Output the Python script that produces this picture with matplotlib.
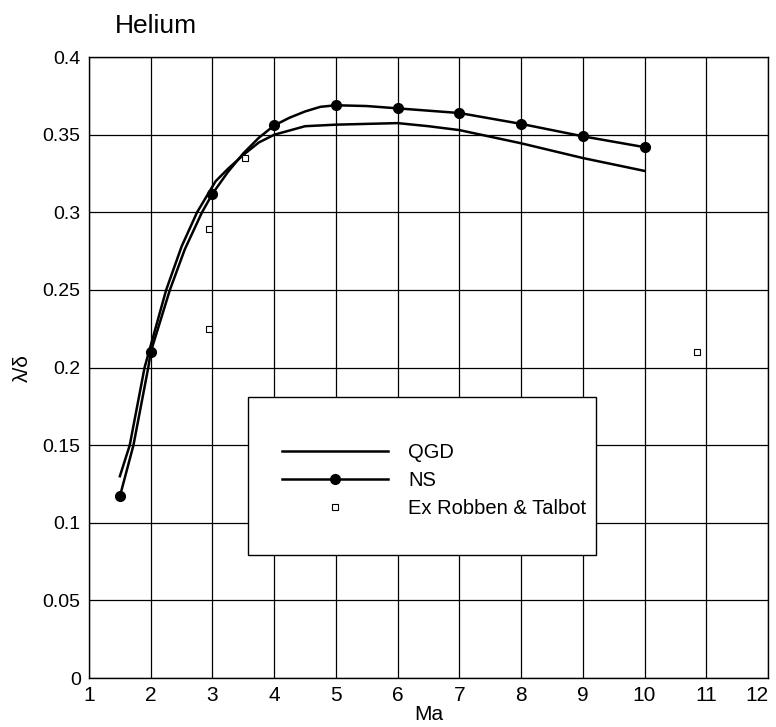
import matplotlib
matplotlib.use("Agg")
import matplotlib.pyplot as plt
from matplotlib.patches import Rectangle

plt.rcParams['font.family'] = ['Liberation Sans', 'DejaVu Sans']

# QGD curve
qgd_x = [1.5, 1.66, 1.9, 2.25, 2.5, 2.75, 3.05, 3.25, 3.5, 3.75, 4.0, 4.5, 5.0, 5.5, 6.0, 6.5, 7.0, 8.0, 9.0, 10.0]
qgd_y = [0.130, 0.150, 0.200, 0.250, 0.278, 0.300, 0.320, 0.328, 0.337, 0.345, 0.350, 0.3555, 0.3565, 0.357, 0.3575, 0.3555, 0.353, 0.3445, 0.335, 0.3267]

# NS curve (markers at the computed Mach numbers)
ns_x = [1.5, 1.72, 1.96, 2.0, 2.31, 2.55, 2.83, 3.0, 3.25, 3.5, 3.75, 4.0, 4.25, 4.5, 4.75, 5.0, 5.5, 6.0, 7.0, 8.0, 9.0, 10.0]
ns_y = [0.117, 0.150, 0.200, 0.210, 0.250, 0.276, 0.300, 0.312, 0.326, 0.338, 0.348, 0.356, 0.361, 0.365, 0.368, 0.369, 0.3685, 0.367, 0.364, 0.357, 0.349, 0.342]
ns_marks = [0, 3, 7, 11, 15, 17, 18, 19, 20, 21]

# experiment, Robben & Talbot
ex_x = [2.94, 2.95, 3.53, 10.85]
ex_y = [0.289, 0.225, 0.335, 0.210]

xticks = list(range(1, 13))
yticks = [0, 0.05, 0.1, 0.15, 0.2, 0.25, 0.3, 0.35, 0.4]
ytick_labels = ['0', '0.05', '0.1', '0.15', '0.2', '0.25', '0.3', '0.35', '0.4']

fig = plt.figure(figsize=(7.76, 7.27), dpi=100)
ax = fig.add_axes([0.1147, 0.0674, 0.875, 0.854])

ax.plot(qgd_x, qgd_y, color='black', lw=1.8, label='QGD')
ax.plot(ns_x, ns_y, color='black', lw=1.8, marker='o', markersize=7,
        markevery=ns_marks, label='NS')
ax.plot(ex_x, ex_y, linestyle='none', marker='s', markersize=5,
        markerfacecolor='white', markeredgecolor='black', markeredgewidth=0.8,
        label='Ex Robben & Talbot')

ax.set_xlim(1, 12)
ax.set_ylim(0, 0.4)
ax.set_xticks(xticks)
ax.set_yticks(yticks)
ax.set_yticklabels(ytick_labels)
ax.tick_params(length=0)
ax.tick_params(axis='y', labelsize=14, pad=6)
ax.tick_params(axis='x', labelsize=15, pad=6)
# last label sits inside the figure edge
ax.get_xticklabels()[-1].set_horizontalalignment('right')
ax.grid(True, color='black', lw=0.9)
ax.set_axisbelow(True)
for s in ax.spines.values():
    s.set_linewidth(1.0)

ax.set_xlabel('Ma', fontsize=15, labelpad=0)
ax.set_ylabel('λ/δ', fontsize=15, labelpad=8)
fig.text(0.148, 0.955, 'Helium', fontsize=19, ha='left', va='baseline')

# legend box
box = Rectangle((3.577, 0.0792), 9.22 - 3.577, 0.181 - 0.0792,
                facecolor='white', edgecolor='black', lw=1.0, zorder=5)
ax.add_patch(box)
leg = ax.legend(loc='upper left', bbox_to_anchor=(0.284, 0.378), frameon=False,
                fontsize=14.5, handlelength=5.27, handletextpad=1.0,
                labelspacing=0.45, borderpad=0, borderaxespad=0)
leg.set_zorder(6)

plt.savefig('out.png', dpi=100)
